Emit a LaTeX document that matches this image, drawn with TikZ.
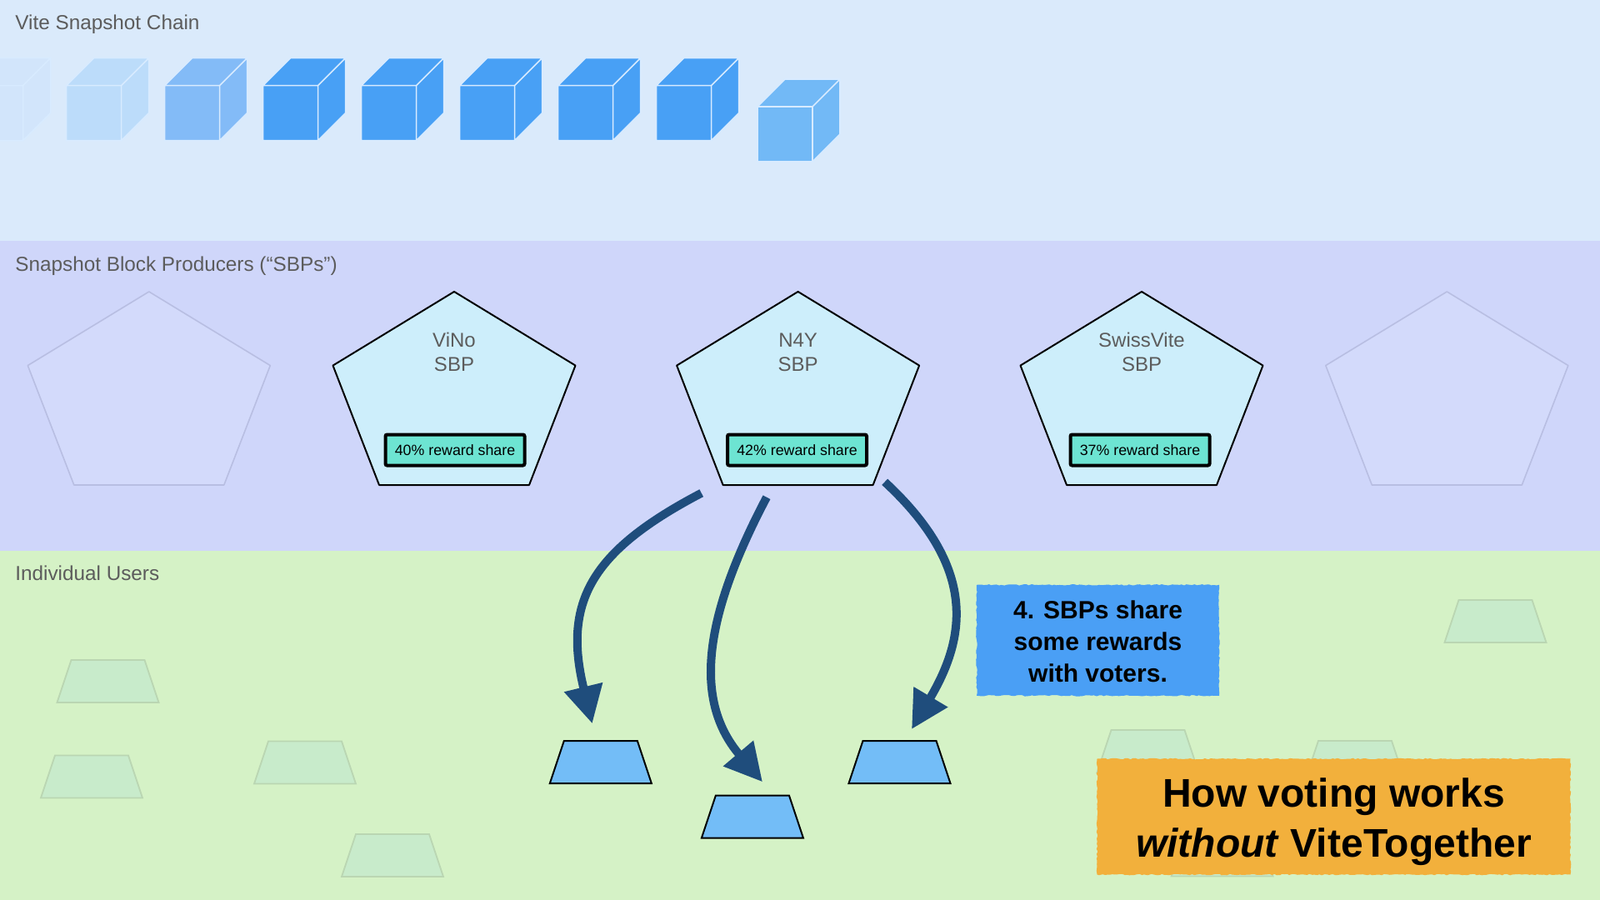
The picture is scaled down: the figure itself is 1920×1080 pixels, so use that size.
\documentclass[tikz,border=0pt]{standalone}
\usepackage{fontspec}
\setmainfont{Liberation Sans}
\usetikzlibrary{arrows.meta,shapes.geometric,decorations.pathmorphing}
\definecolor{bandA}{HTML}{DAEAFB}
\definecolor{bandB}{HTML}{CFD6FA}
\definecolor{bandC}{HTML}{D5F2C6}
\definecolor{labelgray}{HTML}{5C5C5C}
\definecolor{cubeedge}{HTML}{D8EBFF}
\definecolor{cubeA}{HTML}{D2E5FB}
\definecolor{cubeB}{HTML}{BCDCFA}
\definecolor{cubeC}{HTML}{83BBF7}
\definecolor{cubeD}{HTML}{48A0F5}
\definecolor{cubeE}{HTML}{72B9F6}
\definecolor{pentfill}{HTML}{CDEEFB}
\definecolor{ghostfill}{HTML}{D3DAFB}
\definecolor{ghostline}{HTML}{B8BEE2}
\definecolor{rewardfill}{HTML}{6DE4D2}
\definecolor{userfill}{HTML}{73BDF7}
\definecolor{ghostuserfill}{HTML}{C8EBCB}
\definecolor{ghostuserline}{HTML}{BAD6B2}
\definecolor{arrowblue}{HTML}{1F4D7C}
\definecolor{noteblue}{HTML}{4A9FF5}
\definecolor{titleorange}{HTML}{F2B03C}
\newcommand\vcube[3]{%
  \filldraw[fill=#3, draw=cubeedge, line width=0.8pt, line join=round]
    (#1,#2) rectangle (#1+66,#2+66)
    (#1,#2) -- (#1+33,#2-33) -- (#1+99,#2-33) -- (#1+66,#2) -- cycle
    (#1+66,#2) -- (#1+99,#2-33) -- (#1+99,#2+33) -- (#1+66,#2+66) -- cycle;}
\newcommand\pent[2]{%
  \draw[#2] (#1,350) -- (#1+145.5,438.6) -- (#1+90,582) -- (#1-90,582) -- (#1-145.5,438.6) -- cycle;}
% voter: name, cx, cy, style
\newcommand\voter[4]{%
  \draw[#4] (#2-44,#3-25.5) -- (#2+44,#3-25.5) -- (#2+61,#3+25.5) -- (#2-61,#3+25.5) -- cycle;
  \coordinate (#1) at (#2,#3);}
\tikzset{
  bandtitle/.style={font=\fontsize{12.15}{14}\selectfont, text=labelgray, anchor=west, inner sep=0},
  sbplabel/.style={font=\fontsize{12}{14.5}\selectfont, text=labelgray, align=center, inner sep=0},
  pentbox/.style={fill=pentfill, draw=black, line width=1pt, line join=round},
  ghostpent/.style={fill=ghostfill, draw=ghostline, line width=0.8pt, line join=round},
  reward/.style={fill=rewardfill, draw=black, line width=2pt, minimum width=83.5pt, minimum height=18.5pt,
    inner sep=0, font=\fontsize{8.9}{10}\selectfont, rounded corners=1pt},
  userbox/.style={draw=black, fill=userfill, line width=1pt, line join=miter},
  ghostuser/.style={draw=ghostuserline, fill=ghostuserfill, line width=0.9pt},
  payout/.style={draw=arrowblue, line width=5pt, -{Triangle[length=22.5pt,width=22.5pt]}},
  notebox/.style={fill=noteblue, minimum width=145.5pt, minimum height=66.5pt, align=center, inner sep=0,
    font=\bfseries\fontsize{15}{19}\selectfont,
    decorate, decoration={random steps, segment length=1.5pt, amplitude=0.4pt}},
  titlebox/.style={fill=titleorange, minimum width=284pt, minimum height=69.5pt, align=center, inner sep=0,
    font=\bfseries\fontsize{24}{30}\selectfont,
    decorate, decoration={random steps, segment length=1.5pt, amplitude=0.4pt}},
}
\begin{document}
\begin{tikzpicture}[x=0.5pt, y=-0.5pt]
\useasboundingbox (0,0) rectangle (1920,1080);
% bands
\fill[bandA] (0,0) rectangle (1920,289);
\fill[bandB] (0,289) rectangle (1920,661);
\fill[bandC] (0,661) rectangle (1920,1080);
\node[bandtitle] (t1) at (18,29.5) {Vite Snapshot Chain};
\node[bandtitle] (t2) at (18,319.5) {Snapshot Block Producers (“SBPs”)};
\node[bandtitle] (t3) at (18,688) {Individual Users};
% cubes
\vcube{-38.4}{102.7}{cubeA}
\vcube{79.6}{102.7}{cubeB}
\vcube{197.6}{102.7}{cubeC}
\vcube{315.6}{102.7}{cubeD}
\vcube{433.6}{102.7}{cubeD}
\vcube{551.6}{102.7}{cubeD}
\vcube{669.6}{102.7}{cubeD}
\vcube{787.6}{102.7}{cubeD}
\vcube{909}{128}{cubeE}
% pentagons
\pent{178.8}{ghostpent}
\pent{545}{pentbox}
\pent{957.6}{pentbox}
\pent{1370}{pentbox}
\pent{1736.3}{ghostpent}
\node[sbplabel] (vino) at (545,422) {ViNo\\SBP};
\node[sbplabel] (n4y) at (957.6,422.5) {N4Y\\SBP};
\node[sbplabel] (swiss) at (1370,422) {SwissVite\\SBP};
\node[reward] (r1) at (546,540) {40\% reward share};
\node[reward] (r2) at (956.5,540) {42\% reward share};
\node[reward] (r3) at (1368,540) {37\% reward share};
% ghost users
\voter{g1}{129.5}{817.5}{ghostuser}
\voter{g2}{110}{932}{ghostuser}
\voter{g3}{366}{915}{ghostuser}
\voter{g4}{471}{1026.5}{ghostuser}
\voter{g5}{1794.5}{745.5}{ghostuser}
\voter{g6}{1377.5}{901.5}{ghostuser}
\voter{g7}{1626}{914.5}{ghostuser}
\voter{g8}{1466.6}{1026}{ghostuser}
% voters
\voter{u1}{720.8}{914.5}{userbox}
\voter{u2}{902.9}{980}{userbox}
\voter{u3}{1079.5}{914.5}{userbox}
% arrows
\coordinate (s1) at (841.7,591.7);
\coordinate (s2) at (920,596.7);
\coordinate (s3) at (1061.7,578.3);
\coordinate (e1) at (710.7,868.3);
\coordinate (e2) at (915,938.3);
\coordinate (e3) at (1094,875);
\draw[payout] (s1) .. controls +(-132.9,69.6) and +(-35.5,-145.6) .. (e1);
\draw[payout] (s2) .. controls +(-74.6,141.6) and +(-84.1,-99.1) .. (e2);
\draw[payout] (s3) .. controls +(110,102) and +(66.3,-111.8) .. (e3);
% notes
\node[notebox] (note) at (1317.5,768.3) {\rule{0pt}{12.5pt}4. SBPs share\\some rewards\\with voters.};
\node[titlebox] (title) at (1600.5,980) {\rule{0pt}{23.5pt}How voting works\\\textit{without} ViteTogether};
\end{tikzpicture}
\end{document}
